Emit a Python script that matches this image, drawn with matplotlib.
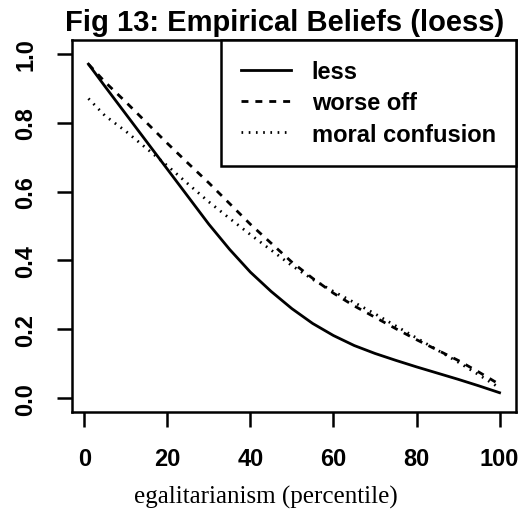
import matplotlib
matplotlib.use('Agg')
import matplotlib.pyplot as plt

# loess curves
x = [1, 5, 10, 15, 20, 25, 30, 35, 40, 45, 50, 55, 60, 65, 70, 75, 80, 85, 90, 95, 100]
less = [0.97, 0.905, 0.825, 0.745, 0.665, 0.585, 0.505, 0.432, 0.366, 0.31, 0.26, 0.217, 0.182, 0.153, 0.13, 0.11, 0.091, 0.073, 0.055, 0.036, 0.016]
worse_off = [0.97, 0.918, 0.86, 0.80, 0.74, 0.682, 0.625, 0.565, 0.505, 0.45, 0.395, 0.348, 0.305, 0.268, 0.235, 0.202, 0.17, 0.14, 0.11, 0.076, 0.04]
moral_confusion = [0.87, 0.82, 0.775, 0.725, 0.675, 0.622, 0.57, 0.522, 0.475, 0.43, 0.385, 0.345, 0.31, 0.278, 0.245, 0.21, 0.175, 0.14, 0.105, 0.068, 0.03]

xticks = [0, 20, 40, 60, 80, 100]
yticks = [0.0, 0.2, 0.4, 0.6, 0.8, 1.0]

W, H = 526, 510
fig = plt.figure(figsize=(W / 100, H / 100), dpi=100)
ax = fig.add_axes([72 / W, 1 - 413 / H, (516 - 72) / W, (413 - 41) / H])

ax.plot(x, less, color='black', lw=2, linestyle='-', label='less')
ax.plot(x, worse_off, color='black', lw=2, linestyle=(0, (2.5, 2.5)), label='worse off')
ax.plot(x, moral_confusion, color='black', lw=2, linestyle=(0, (0.6, 2.0)), label='moral confusion')

ax.set_xlim(-2.96, 103.96)
ax.set_ylim(-0.04, 1.04)
ax.set_xticks(xticks)
ax.set_yticks(yticks)
ax.set_xticklabels([str(t) for t in xticks])
ax.set_yticklabels(['%.1f' % t for t in yticks])

tickfont = dict(family='Liberation Sans', weight='bold', size=17)
for lbl in ax.get_xticklabels() + ax.get_yticklabels():
    lbl.set_fontproperties(matplotlib.font_manager.FontProperties(**tickfont))
for lbl in ax.get_yticklabels():
    lbl.set_rotation(90)
    lbl.set_va('center')

for s in ax.spines.values():
    s.set_linewidth(1.8)
ax.tick_params(direction='out', length=11, width=1.8, pad=14)

leg = ax.legend(loc='upper right', bbox_to_anchor=(1, 1), borderaxespad=0,
                fancybox=False, edgecolor='black', framealpha=1,
                handlelength=2.1, handletextpad=0.9, borderpad=0.85,
                labelspacing=0.35, prop=dict(family='Liberation Sans', weight='bold', size=17))
leg.get_frame().set_linewidth(1.8)

fig.text(285 / W, 1 - 23 / H, 'Fig 13: Empirical Beliefs (loess)', ha='center', va='center',
         family='Liberation Sans', weight='bold', size=21)
fig.text(266 / W, 1 - 497 / H, 'egalitarianism (percentile)', ha='center', va='center',
         family='Liberation Serif', size=18)

fig.savefig('out.png', dpi=100)
